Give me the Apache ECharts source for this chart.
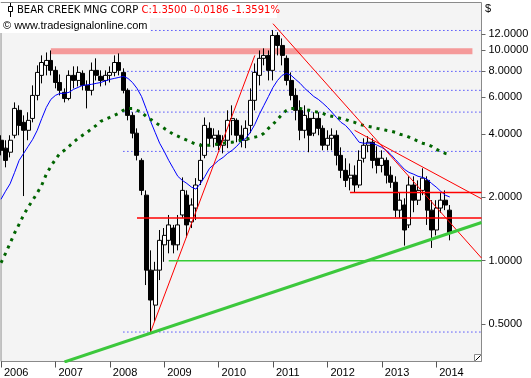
<!DOCTYPE html>
<html>
<head>
<meta charset="utf-8">
<script src="https://cdn.jsdelivr.net/npm/echarts@6/dist/echarts.min.js"></script>
<style>
html, body { margin: 0; padding: 0; background: #fff; }
#chart { width: 531px; height: 378px; }
</style>
</head>
<body>
<div id="chart"></div>
<script>
// monthly bars, Jan 2006 .. Nov 2014 (last months are empty room on the right)
var years = [2006, 2007, 2008, 2009, 2010, 2011, 2012, 2013, 2014];
var months = [];
years.forEach(function (y) {
    for (var m = 1; m <= 12; m++) {
        if (months.length < 107) months.push(y + '-' + (m < 10 ? '0' + m : m));
    }
});

var opens = [3.74, 3.43, 3.28, 3.95, 5.19, 4.55, 4.17, 4.75, 6.11, 7.61,
    8.49, 8.96, 8.04, 7.04, 6.32, 5.91, 7.61, 7.20, 7.78, 6.82,
    6.46, 8.04, 7.53, 7.20, 7.61, 7.86, 8.76, 7.86, 6.46, 4.91,
    4.04, 3.00, 2.05, 0.902, 0.615, 0.902, 1.19, 1.25, 1.43, 1.19,
    1.65, 2.05, 1.53, 1.78, 2.41, 3.17, 4.26, 3.82, 3.95, 3.54,
    3.74, 4.65, 4.65, 3.95, 3.74, 4.40, 5.79, 7.61, 9.17, 9.47,
    8.04, 11.78, 10.56, 9.17, 7.20, 6.11, 5.19, 4.17, 4.75, 4.04,
    4.75, 4.26, 3.54, 3.82, 3.95, 3.17, 2.69, 2.47, 2.55, 2.29,
    3.07, 3.54, 3.66, 3.07, 2.84, 3.00, 2.55, 2.36, 1.74, 1.84,
    1.48, 2.29, 1.94, 2.16, 2.41, 1.74, 1.40, 1.78, 1.94, 1.74];
var closes = [3.35, 3.00, 3.74, 5.30, 4.40, 4.17, 4.65, 6.11, 7.86, 8.76,
    8.96, 8.04, 7.04, 6.46, 5.91, 7.61, 7.20, 7.86, 6.82, 6.46,
    8.04, 7.61, 7.20, 7.61, 7.86, 8.76, 8.04, 6.46, 4.91, 4.04,
    3.17, 2.16, 0.902, 0.650, 0.902, 1.25, 1.32, 1.48, 1.19, 1.48,
    2.16, 1.48, 1.84, 2.29, 3.00, 4.40, 3.82, 3.95, 3.54, 3.74,
    4.65, 4.75, 3.95, 3.74, 4.26, 5.79, 7.86, 9.17, 9.47, 8.04,
    11.78, 10.56, 9.47, 7.20, 6.11, 5.19, 4.17, 4.91, 3.95, 4.75,
    4.26, 3.54, 3.82, 3.95, 3.17, 2.69, 2.41, 2.55, 2.29, 3.00,
    3.54, 3.66, 3.00, 2.84, 3.07, 2.55, 2.36, 1.74, 1.94, 1.40,
    2.29, 1.94, 2.16, 2.47, 1.74, 1.40, 1.78, 1.94, 1.84, 1.35];
var highs = [3.95, 3.74, 3.95, 5.66, 5.48, 4.91, 5.08, 6.82, 8.49, 9.47,
    9.78, 10.0, 8.40, 7.69, 6.60, 8.04, 8.40, 8.40, 8.04, 7.20,
    8.76, 9.17, 8.04, 8.04, 8.40, 9.47, 9.68, 8.22, 6.60, 5.08,
    4.26, 3.07, 2.16, 1.12, 0.988, 1.40, 1.43, 1.65, 1.48, 1.65,
    2.49, 2.16, 1.98, 2.47, 3.62, 4.80, 4.55, 4.26, 4.17, 3.95,
    5.19, 5.48, 4.75, 4.40, 4.65, 6.60, 8.67, 10.0, 10.23, 10.0,
    12.5, 12.2, 11.4, 9.47, 7.86, 6.60, 5.79, 5.48, 5.19, 5.08,
    5.08, 4.40, 4.17, 4.26, 4.17, 3.46, 3.07, 2.90, 2.84, 3.35,
    3.82, 3.91, 3.82, 3.50, 3.35, 3.10, 2.81, 2.52, 2.11, 1.98,
    2.52, 2.52, 2.41, 2.75, 2.52, 1.94, 1.94, 2.11, 2.16, 1.84];
var lows = [3.17, 2.78, 3.10, 3.82, 3.95, 2.03, 3.74, 4.55, 5.79, 6.97,
    7.61, 7.61, 6.60, 6.11, 5.66, 5.79, 6.60, 6.74, 6.46, 5.30,
    6.11, 7.20, 6.74, 6.82, 7.04, 7.53, 7.61, 6.25, 4.65, 3.82,
    3.00, 2.05, 0.766, 0.458, 0.511, 0.809, 0.988, 1.084, 1.084, 1.12,
    1.60, 1.29, 1.43, 1.56, 2.29, 3.07, 3.54, 3.46, 3.35, 3.24,
    3.43, 3.95, 3.66, 3.46, 3.43, 4.04, 5.19, 6.82, 8.49, 7.20,
    7.20, 9.47, 8.49, 6.82, 5.79, 4.65, 3.74, 3.82, 3.28, 3.91,
    3.95, 3.35, 3.35, 3.35, 2.84, 2.47, 2.24, 2.16, 2.11, 2.22,
    2.93, 3.28, 2.75, 2.60, 2.63, 2.33, 2.22, 1.61, 1.60, 1.18,
    1.43, 1.70, 1.84, 2.05, 1.48, 1.15, 1.32, 1.69, 1.74, 1.25];

// moving averages
var blueMa = [1.96, 2.14, 2.32, 2.63, 3.00, 3.24, 3.50, 3.78, 4.17, 4.75,
    5.36, 5.85, 6.11, 6.25, 6.25, 6.32, 6.53, 6.67, 6.82, 6.86,
    6.90, 6.97, 7.04, 7.16, 7.28, 7.36, 7.44, 7.53, 7.36, 7.04,
    6.60, 6.04, 5.30, 4.60, 4.08, 3.62, 3.31, 3.00, 2.75, 2.52,
    2.41, 2.33, 2.24, 2.19, 2.33, 2.52, 2.75, 2.87, 3.00, 3.10,
    3.24, 3.35, 3.50, 3.70, 3.82, 4.08, 4.45, 4.97, 5.48, 6.04,
    6.67, 7.20, 7.61, 7.78, 7.61, 7.28, 6.97, 6.60, 6.32, 6.04,
    5.85, 5.61, 5.36, 5.08, 4.80, 4.55, 4.40, 4.17, 3.91, 3.66,
    3.62, 3.62, 3.62, 3.54, 3.46, 3.35, 3.20, 3.03, 2.87, 2.72,
    2.63, 2.58, 2.52, 2.49, 2.44, 2.33, 2.24, 2.14, 2.05, 2.01];
var greenMa = [0.977, 1.084, 1.21, 1.355, 1.49, 1.65, 1.80, 1.94, 2.10, 2.29,
    2.58, 2.81, 3.03, 3.24, 3.35, 3.50, 3.66, 3.82, 3.95, 4.08,
    4.24, 4.40, 4.60, 4.70, 4.80, 4.91, 5.02, 5.19, 5.30, 5.30,
    5.19, 5.08, 4.86, 4.70, 4.55, 4.40, 4.26, 4.13, 3.99, 3.91,
    3.82, 3.74, 3.66, 3.58, 3.54, 3.54, 3.54, 3.58, 3.58, 3.62,
    3.66, 3.66, 3.70, 3.74, 3.78, 3.82, 3.87, 3.91, 4.04, 4.26,
    4.45, 4.70, 4.97, 5.19, 5.30, 5.30, 5.30, 5.24, 5.19, 5.13,
    5.08, 5.02, 4.91, 4.86, 4.80, 4.75, 4.70, 4.60, 4.55, 4.45,
    4.40, 4.35, 4.31, 4.26, 4.22, 4.17, 4.13, 4.08, 3.99, 3.95,
    3.87, 3.78, 3.70, 3.62, 3.58, 3.50, 3.39, 3.31, 3.24, 3.20];

// drawn lines: [start month index, start price, end month index, end price]
var redLines = [
    [33, 0.458, 56, 9.47],
    [60, 13.4, 106, 1.03],
    [78, 4.17, 106, 1.97]
];
var redLevels = [[77, 2.11, 106, 2.11], [30, 1.595, 106, 1.595]];
var greenLevel = [37, 1.0, 106, 1.0];
var greenTrend = [14, 0.330, 106, 1.52];
var fibLevels = [12.44, 7.95, 6.46, 5.09, 3.31, 0.458];
var fibStart = 27;
var band = [11, 9.6, 104, 10.25];

var yTicks = [0.5, 1, 2, 4, 6, 8, 10, 12];

var chart = echarts.init(document.getElementById('chart'));

function seg(s, color, width, type, z) {
    return {
        type: 'line',
        data: [[months[s[0]], s[1]], [months[s[2]], s[3]]],
        symbol: 'none',
        silent: true,
        z: z,
        lineStyle: { color: color, width: width, type: type || 'solid' }
    };
}

var series = [];
var candleData = opens.map(function (o, i) { return [o, closes[i], lows[i], highs[i]]; });
series.push({
    type: 'candlestick',
    data: candleData,
    barWidth: 4.5,
    z: 3,
    silent: true,
    itemStyle: { color: '#ffffff', color0: '#000000', borderColor: '#000000', borderColor0: '#000000', borderWidth: 1 },
    markArea: {
        silent: true,
        z: 1,
        itemStyle: { color: '#f59a9a', opacity: 1 },
        data: [[{ xAxis: months[band[0]], yAxis: band[1] }, { xAxis: months[band[2]], yAxis: band[3] }]]
    }
});
fibLevels.forEach(function (v) {
    series.push(seg([fibStart, v, 106, v], '#0000ff', 1, [1, 3], 2));
});
series.push({
    type: 'line', data: blueMa, symbol: 'none', silent: true, z: 4,
    lineStyle: { color: '#0000ff', width: 1 }
});
series.push({
    type: 'line', data: greenMa, symbol: 'none', silent: true, z: 4,
    lineStyle: { color: '#006400', width: 3, type: [3, 5] }
});
redLines.forEach(function (s) { series.push(seg(s, '#ff0000', 1, 'solid', 5)); });
redLevels.forEach(function (s) { series.push(seg(s, '#ff0000', 1.5, 'solid', 5)); });
series.push(seg(greenLevel, '#33cc33', 1.5, 'solid', 5));
series.push(seg(greenTrend, '#3cc83c', 3, 'solid', 5));

var option = {
    animation: false,
    backgroundColor: '#ffffff',
    textStyle: { fontFamily: 'Liberation Sans' },
    grid: {
        left: 1, top: 2.5, right: 49.5, bottom: 16.5,
        show: true, backgroundColor: '#f4f4f4', borderColor: '#8a8a8a', borderWidth: 1,
        containLabel: false, outerBoundsMode: 'none'
    },
    xAxis: {
        type: 'category',
        data: months,
        boundaryGap: false,
        axisLine: { show: false },
        axisTick: {
            show: true, length: 6,
            interval: function (i, v) { return v.slice(5) === '01'; },
            lineStyle: { color: '#555' }
        },
        axisLabel: {
            interval: function (i, v) { return v.slice(5) === '01'; },
            formatter: function (v) { return v.slice(0, 4); },
            align: 'left', padding: [0, 0, 0, 3],
            color: '#000', fontSize: 11, margin: 6
        },
        splitLine: { show: false }
    },
    yAxis: {
        type: 'log',
        logBase: 2,
        position: 'right',
        min: 0.3317,
        max: 16.9,
        axisLine: { show: false },
        axisTick: { show: true, length: 4, customValues: yTicks, lineStyle: { color: '#666' } },
        axisLabel: {
            customValues: yTicks,
            formatter: function (v) { return Number(v).toFixed(4); },
            color: '#000', fontSize: 11, margin: 7
        },
        splitLine: { show: false }
    },
    graphic: [
        { type: 'rect', shape: { x: 0, y: 3, width: 277, height: 15 }, style: { fill: '#ffffff' }, z: 10 },
        { type: 'rect', shape: { x: 0, y: 18, width: 150, height: 15 }, style: { fill: '#ffffff' }, z: 10 },
        { type: 'line', shape: { x1: 10.5, y1: 3, x2: 10.5, y2: 17 }, style: { stroke: '#000', lineWidth: 1 }, z: 11 },
        { type: 'rect', shape: { x: 8.5, y: 6.5, width: 4, height: 5 }, style: { fill: '#fff', stroke: '#000', lineWidth: 1 }, z: 12 },
        {
            type: 'text', x: 17, y: 10.5, z: 11,
            style: {
                text: '{a|BEAR CREEK MNG CORP} {b|C:1.3500 -0.0186 -1.3591%}',
                verticalAlign: 'middle',
                font: '10px "DejaVu Sans"',
                rich: {
                    a: { fill: '#000', font: '10px "DejaVu Sans"' },
                    b: { fill: '#ff0000', font: '10px "DejaVu Sans"' }
                }
            }
        },
        {
            type: 'text', x: 3, y: 26, z: 11,
            style: { text: '\u00a9 www.tradesignalonline.com', fill: '#000', font: '11px "Liberation Sans"', verticalAlign: 'middle' }
        },
        {
            type: 'text', x: 485, y: 9, z: 11,
            style: { text: '$', fill: '#000', font: '11px "Liberation Sans"', verticalAlign: 'middle' }
        },
        { type: 'rect', shape: { x: 474.5, y: 354.5, width: 7, height: 7 }, style: { fill: '#fff', stroke: '#8a8a8a', lineWidth: 1 }, z: 11 },
        { type: 'line', shape: { x1: 475.5, y1: 360.5, x2: 480.5, y2: 355.5 }, style: { stroke: '#000', lineWidth: 1 }, z: 12 }
    ],
    series: series
};
chart.setOption(option);
</script>
</body>
</html>
